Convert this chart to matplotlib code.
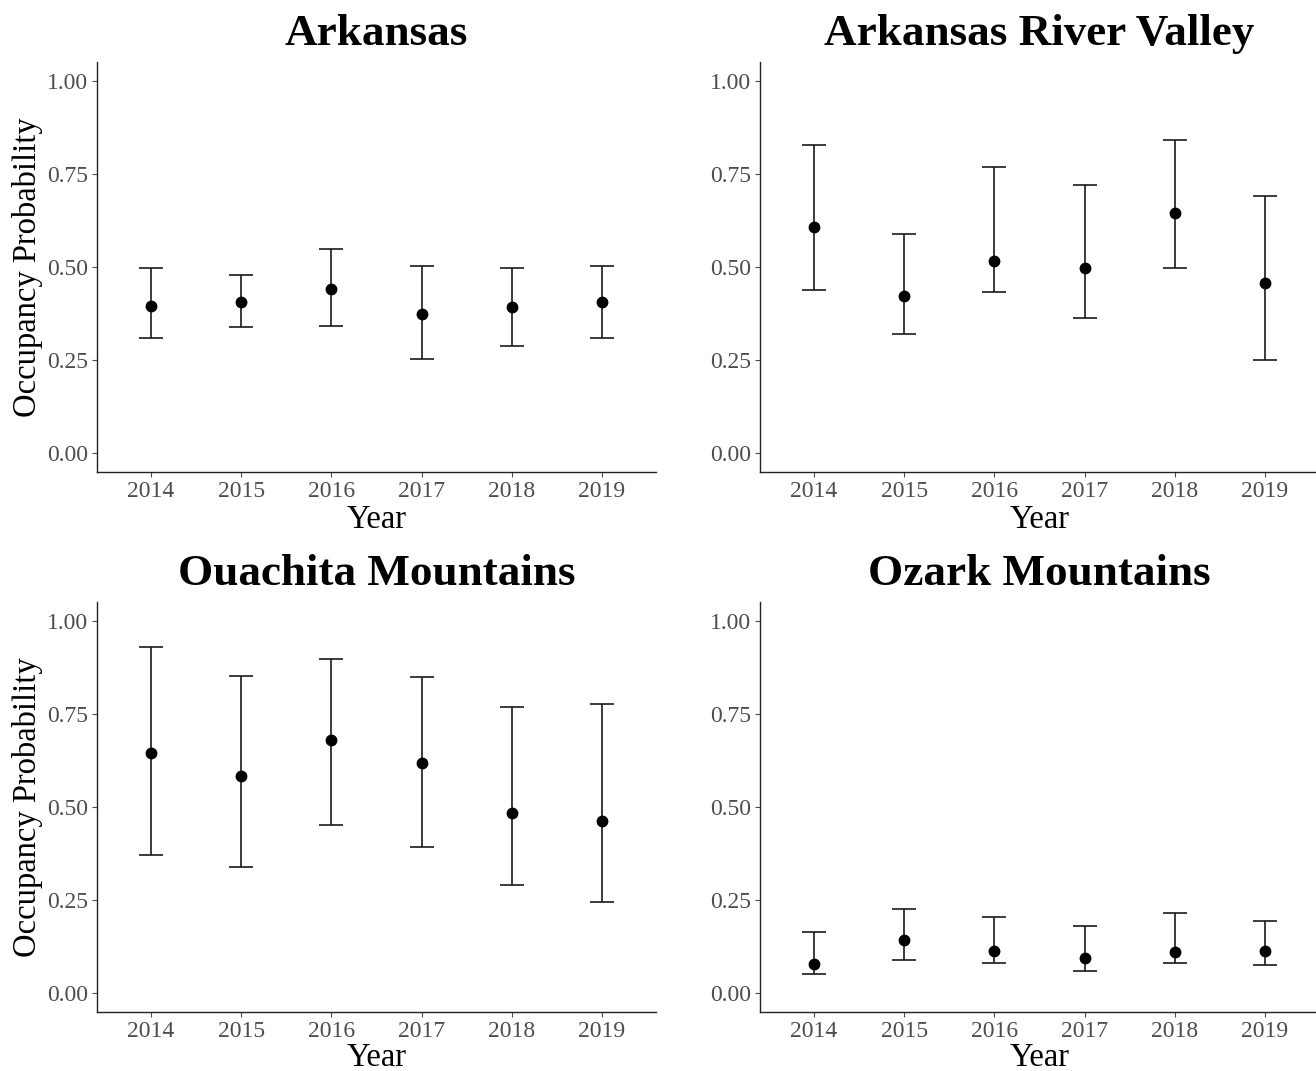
import matplotlib
matplotlib.use("Agg")
import matplotlib.pyplot as plt
import numpy as np

plt.rcParams['font.family'] = ['Liberation Serif', 'DejaVu Serif']

years = ["2014", "2015", "2016", "2017", "2018", "2019"]

titles = ["Arkansas", "Arkansas River Valley", "Ouachita Mountains", "Ozark Mountains"]

ark_est = [0.395, 0.405, 0.440, 0.374, 0.393, 0.405]
ark_lo = [0.310, 0.338, 0.342, 0.254, 0.289, 0.310]
ark_hi = [0.496, 0.478, 0.549, 0.502, 0.496, 0.502]

arv_est = [0.607, 0.421, 0.517, 0.496, 0.645, 0.458]
arv_lo = [0.438, 0.319, 0.434, 0.362, 0.496, 0.250]
arv_hi = [0.826, 0.589, 0.767, 0.720, 0.841, 0.690]

oua_est = [0.646, 0.582, 0.680, 0.618, 0.484, 0.463]
oua_lo = [0.372, 0.339, 0.451, 0.394, 0.290, 0.245]
oua_hi = [0.928, 0.852, 0.897, 0.848, 0.768, 0.776]

oza_est = [0.080, 0.143, 0.115, 0.094, 0.111, 0.115]
oza_lo = [0.053, 0.089, 0.081, 0.059, 0.081, 0.075]
oza_hi = [0.165, 0.227, 0.204, 0.180, 0.216, 0.194]

panels = [
    (ark_est, ark_lo, ark_hi),
    (arv_est, arv_lo, arv_hi),
    (oua_est, oua_lo, oua_hi),
    (oza_est, oza_lo, oza_hi),
]

W, H = 1316, 1071
fig = plt.figure(figsize=(W / 100, H / 100), dpi=100)

# axes rectangles in pixels: left, top, right, bottom
rects = [
    (97, 62, 656, 472),
    (760, 62, 1319, 472),
    (97, 602, 656, 1012),
    (760, 602, 1319, 1012),
]

tick_grey = "#4D4D4D"
for i, ((est, lo, hi), (l, t, r, b)) in enumerate(zip(panels, rects)):
    ax = fig.add_axes([l / W, 1 - b / H, (r - l) / W, (b - t) / H])
    x = np.arange(len(years))
    est = np.array(est); lo = np.array(lo); hi = np.array(hi)
    ax.errorbar(x, est, yerr=[est - lo, hi - est], fmt='o', color='black',
                ecolor='#1a1a1a', elinewidth=1.2, capsize=8.3, capthick=1.2,
                markersize=7.5, zorder=3)
    ax.set_xlim(-0.6, len(years) - 0.4)
    ax.set_ylim(-0.05, 1.05)
    ax.set_xticks(x)
    ax.set_xticklabels(years)
    ax.set_yticks([0, 0.25, 0.5, 0.75, 1.0])
    ax.set_yticklabels(["0.00", "0.25", "0.50", "0.75", "1.00"])
    for s in ['top', 'right']:
        ax.spines[s].set_visible(False)
    for s in ['left', 'bottom']:
        ax.spines[s].set_linewidth(1.0)
        ax.spines[s].set_color('#222222')
    ax.tick_params(axis='both', labelsize=17, colors=tick_grey, length=3.5,
                   width=0.8, pad=3)
    ax.set_xlabel("Year", fontsize=23.5, color='black',
                  labelpad=2 if i < 2 else 0)
    if i % 2 == 0:
        ax.set_ylabel("Occupancy Probability", fontsize=23.5, color='black', labelpad=3)
    ax.set_title(titles[i], fontsize=32.5, fontweight='bold', pad=12)

fig.savefig("out.png", dpi=100, facecolor='white')
